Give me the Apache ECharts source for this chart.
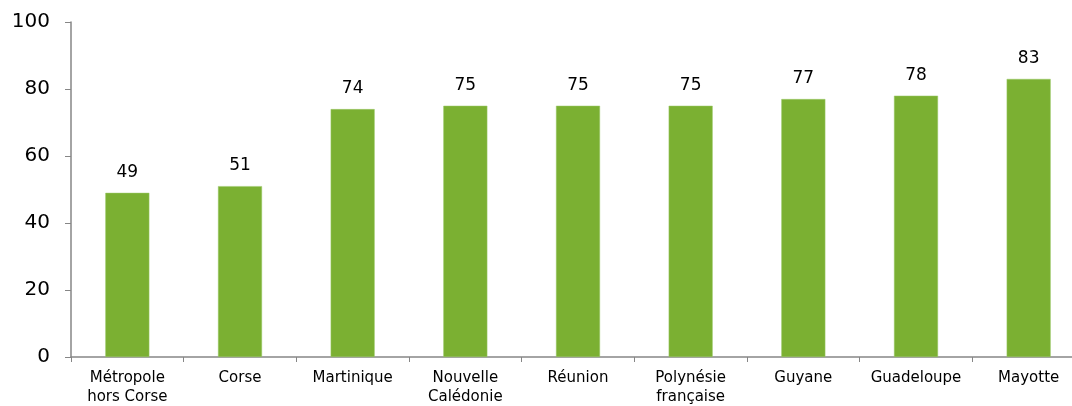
<!DOCTYPE html>
<html>
<head>
<meta charset="utf-8">
<script src="https://cdn.jsdelivr.net/npm/echarts@6/dist/echarts.min.js"></script>
<style>
  html, body { margin: 0; padding: 0; background: #fff; overflow: hidden; }
  /* the axis runs past the right edge of the picture, so the panel is wider than the window */
  #chart-panel { width: 1090px; height: 406px; }
</style>
</head>
<body>
<div id="chart-panel"></div>
<script>
const categories = ['Métropole\nhors Corse', 'Corse', 'Martinique', 'Nouvelle\nCalédonie', 'Réunion', 'Polynésie\nfrançaise', 'Guyane', 'Guadeloupe', 'Mayotte']
const values = [49, 51, 74, 75, 75, 75, 77, 78, 83]
const yTicks = [0, 20, 40, 60, 80, 100]

let myChart = echarts.init(document.getElementById('chart-panel'))
myChart.setOption({
    animation: false,
    textStyle: { fontFamily: 'DejaVu Sans' },
    grid: { left: 71, top: 22, width: 1014, height: 335, containLabel: false, outerBoundsMode: 'none' },
    xAxis: {
        type: 'category',
        data: categories,
        axisLine: { lineStyle: { color: '#868686', width: 1.5 } },
        axisTick: { show: true, length: 5, lineStyle: { color: '#868686' } },
        axisLabel: { color: '#000', fontSize: 15, lineHeight: 19, margin: 12, interval: 0 }
    },
    yAxis: {
        type: 'value',
        min: yTicks[0],
        max: yTicks[yTicks.length - 1],
        interval: 20,
        splitLine: { show: false },
        axisLine: { show: true, lineStyle: { color: '#868686', width: 1.5 } },
        axisTick: { show: true, length: 6, lineStyle: { color: '#868686' } },
        axisLabel: { color: '#000', fontSize: 20, margin: 21 }
    },
    series: [{
        type: 'bar',
        data: values,
        barWidth: 44,
        itemStyle: { color: '#7BB032', borderColor: '#9CC86A', borderWidth: 0.5 },
        label: { show: true, position: 'top', distance: 12, color: '#000', fontSize: 17 }
    }]
})
</script>
</body>
</html>
